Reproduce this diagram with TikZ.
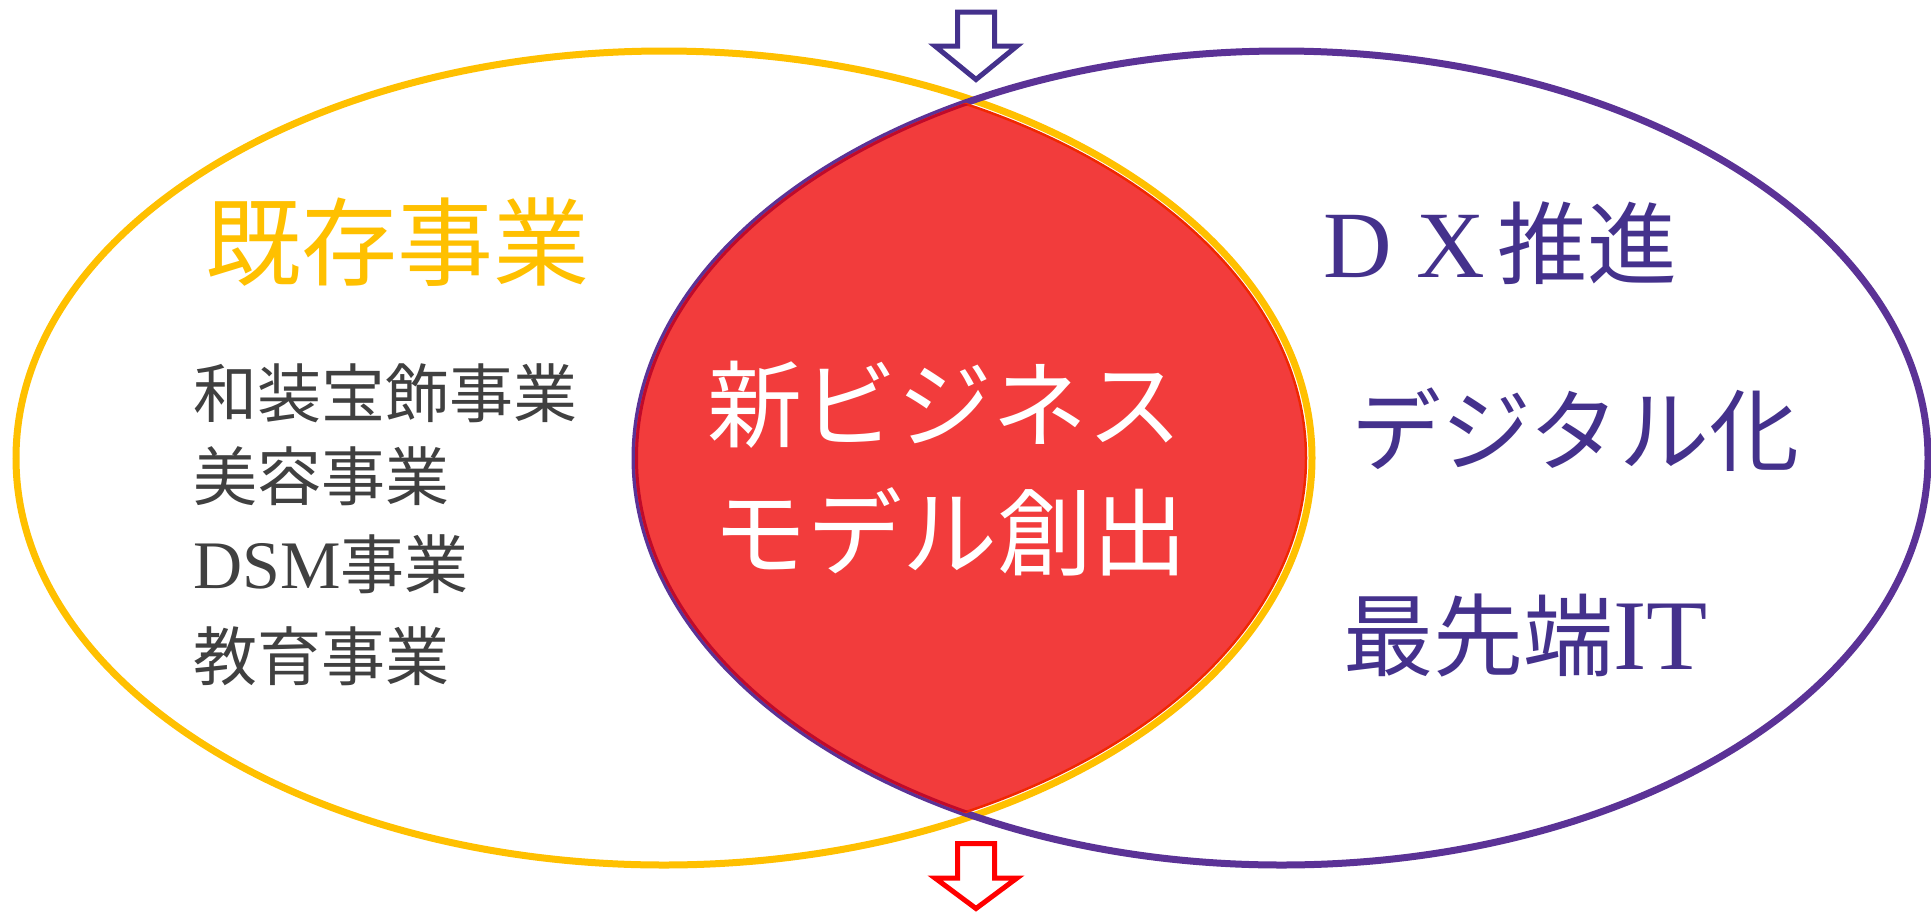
\documentclass[tikz,border=0pt]{standalone}
\usepackage{fontspec}
\newfontfamily\cjk{Noto Sans CJK JP}
\newfontfamily\lat{Liberation Serif}
\definecolor{yel}{HTML}{FFC000}
\definecolor{purp}{HTML}{5B3296}
\definecolor{tpurp}{HTML}{44318C}
\definecolor{tgray}{HTML}{404040}
\definecolor{lensred}{HTML}{F23C3C}
\definecolor{lensedge}{HTML}{F02800}
\definecolor{crim}{HTML}{C00A2A}
\definecolor{arrred}{HTML}{FF0000}
\begin{document}
\begin{tikzpicture}[x=1pt,y=-1pt,
  txt/.style={inner sep=0pt, anchor=base west},
  ctxt/.style={inner sep=0pt, anchor=base},
  ring/.style={line width=7pt},
  blockarrow/.style={line width=5pt, line join=miter, fill=white}]
\fill[white] (0,0) rectangle (1931,914);
\useasboundingbox (0,0) rectangle (1931,914);
% ellipses
\draw[ring, yel] (664,458) ellipse [x radius=648pt, y radius=407pt];
\draw[ring, purp] (1281.5,458) ellipse [x radius=646.5pt, y radius=407pt];
% lens
\begin{scope}
  \clip (1281.5,458) ellipse [x radius=646.5pt, y radius=407pt];
  \fill[lensred] (664,458) ellipse [x radius=642pt, y radius=401pt];
  \draw[lensedge, line width=2.5pt] (664,458) ellipse [x radius=642pt, y radius=401pt];
\end{scope}
\begin{scope}
  \clip (664,458) ellipse [x radius=642pt, y radius=401pt];
  \draw[crim, line width=3pt] (1281.5,458) ellipse [x radius=645pt, y radius=405.5pt];
\end{scope}
% arrows
\draw[blockarrow, draw=tpurp] (957.5,12) -- (994.5,12) -- (994.5,46) -- (1017,46)
  -- (976,79.5) -- (935,46) -- (957.5,46) -- cycle;
\draw[blockarrow, draw=arrred] (957.5,843.5) -- (994.5,843.5) -- (994.5,878) -- (1017,878)
  -- (976,908.5) -- (935,878) -- (957.5,878) -- cycle;
% left texts
\node[txt, text=yel] (kizon) at (205,278) {\cjk\fontsize{96}{96}\selectfont 既存事業};
\node[txt, text=tgray] (wasou) at (193,417) {\cjk\fontsize{64}{64}\selectfont 和装宝飾事業};
\node[txt, text=tgray] (biyou) at (193,500) {\cjk\fontsize{64}{64}\selectfont 美容事業};
\node[txt, text=tgray] (dsm) at (193,588) {\fontsize{64}{64}\selectfont{\lat\fontsize{68}{68}\selectfont DSM}\cjk 事業};
\node[txt, text=tgray] (kyoiku) at (193,680) {\cjk\fontsize{64}{64}\selectfont 教育事業};
% centre texts
\node[ctxt, text=white] (shin) at (945,440) {\cjk\fontsize{95}{95}\selectfont 新ビジネス};
\node[ctxt, text=white] (model) at (950,568) {\cjk\fontsize{95}{95}\selectfont モデル創出};
% right texts
\node[txt, text=tpurp] (dx) at (1323,277) {\fontsize{90}{90}\selectfont{\lat\fontsize{95}{95}\selectfont D\hspace{25pt}X\hspace{12pt}}\cjk 推進};
\node[txt, text=tpurp] (digital) at (1351,464) {\cjk\fontsize{90}{90}\selectfont デジタル化};
\node[txt, text=tpurp] (saisentan) at (1343,669) {\fontsize{90}{90}\selectfont\cjk 最先端{\lat\fontsize{100}{100}\selectfont IT}};
\end{tikzpicture}
\end{document}
